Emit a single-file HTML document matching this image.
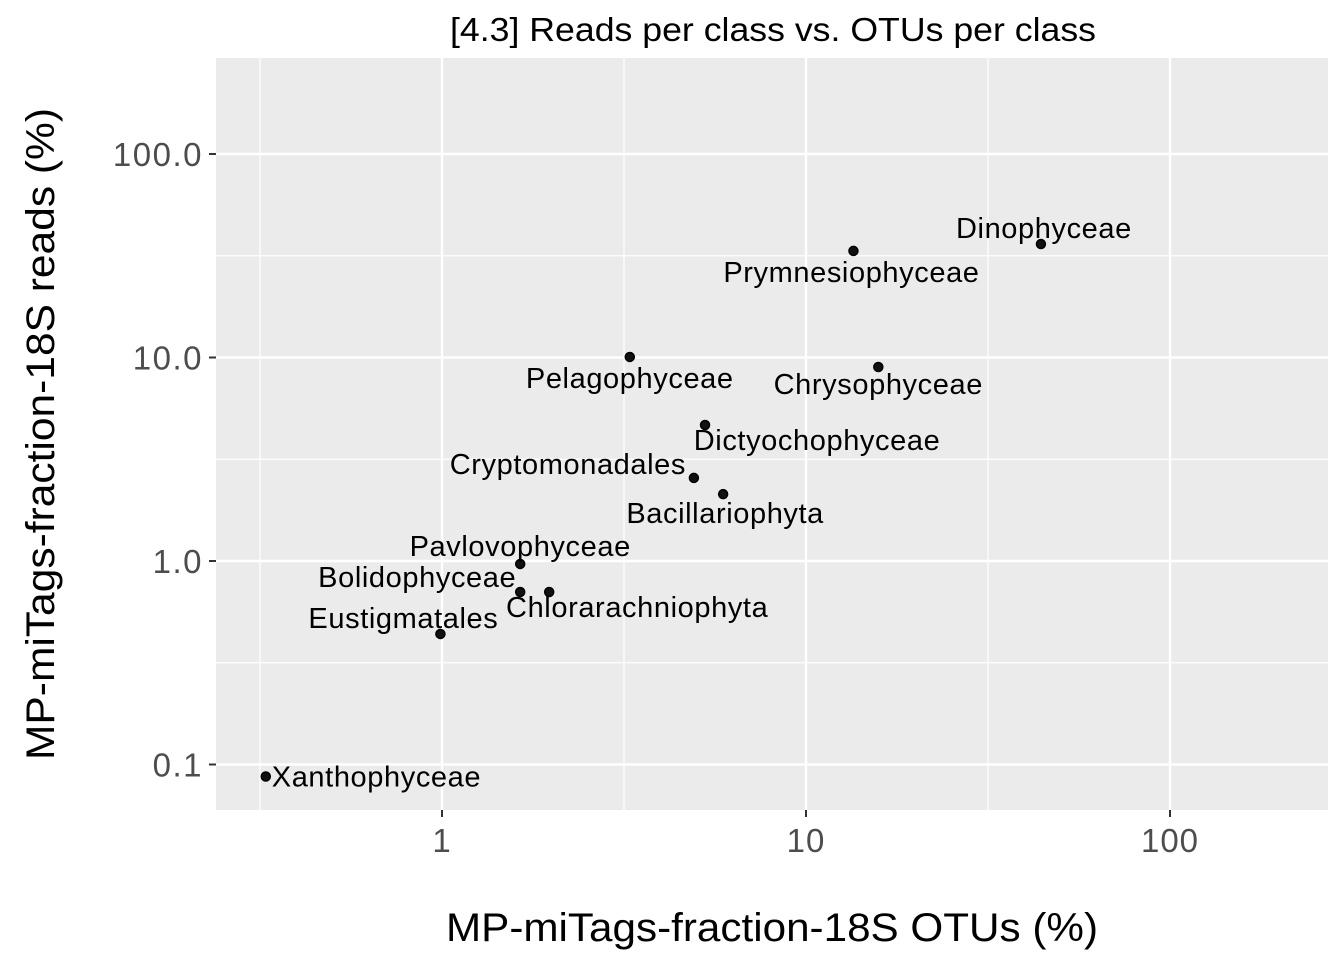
<!DOCTYPE html>
<html><head><meta charset="utf-8"><style>
body{margin:0;background:#fff;}
svg{display:block;font-family:"Liberation Sans",Arial,sans-serif;}
</style></head><body>
<svg id="chart" width="1344" height="960" xmlns="http://www.w3.org/2000/svg">
<rect width="1344" height="960" fill="#fff"/>
<text x="773" y="41" text-anchor="middle" font-size="33" textLength="646" lengthAdjust="spacingAndGlyphs" fill="#000">[4.3] Reads per class vs. OTUs per class</text>
<rect x="216" y="58" width="1112" height="752" fill="#ebebeb"/>
<g id="grid"></g><g id="axes"></g><g id="marks"></g>
<text x="772" y="941" text-anchor="middle" font-size="40" textLength="652" lengthAdjust="spacingAndGlyphs" fill="#000">MP-miTags-fraction-18S OTUs (%)</text>
<text transform="translate(54,434) rotate(-90)" text-anchor="middle" font-size="40" textLength="652" lengthAdjust="spacingAndGlyphs" fill="#000">MP-miTags-fraction-18S reads (%)</text>
</svg>
<script>
const classes=["Xanthophyceae","Eustigmatales","Bolidophyceae","Chlorarachniophyta","Pavlovophyceae","Cryptomonadales","Bacillariophyta","Dictyochophyceae","Pelagophyceae","Chrysophyceae","Prymnesiophyceae","Dinophyceae"];
const otus=[0.328,0.99,1.64,1.97,1.64,4.92,5.92,5.28,3.28,15.8,13.5,44.2];
const reads=[0.0873,0.438,0.704,0.704,0.967,2.56,2.13,4.66,10.06,8.98,33.4,36.1];
const xTicks=[1,10,100];
const xTickLabels=["1","10","100"];
const yTicks=[0.1,1,10,100];
const yTickLabels=["0.1","1.0","10.0","100.0"];
// label offsets (styling)
const lblDx=[6,-37,-103,88,0,-126,2,112,0,0,-2,3];
const lblDy=[10,-6,-5,25,-8,-4,29,25,31,27,31,-6];
const lblAnchor=["start","middle","middle","middle","middle","middle","middle","middle","middle","middle","middle","middle"];
const X=v=>442+364*Math.log10(v);
const Y=v=>561-203.5*Math.log10(v);
const NS="http://www.w3.org/2000/svg";
const g=document.getElementById('grid'),a=document.getElementById('axes'),m=document.getElementById('marks');
function mk(p,tag,at){const e=document.createElementNS(NS,tag);for(const k in at)e.setAttribute(k,at[k]);p.appendChild(e);return e;}
[-0.5,0.5,1.5].forEach(d=>{const x=X(Math.pow(10,d));const l=mk(g,'line',{x1:x,x2:x,y1:58,y2:810,stroke:'#fff','stroke-width':1.2});

});
[-0.5,0.5,1.5].forEach(d=>{const y=Y(Math.pow(10,d));const l=mk(g,'line',{x1:216,x2:1328,y1:y,y2:y,stroke:'#fff','stroke-width':1.2});

});
xTicks.forEach((t,i)=>{const x=X(t);
const l=mk(g,'line',{x1:x,x2:x,y1:58,y2:810,stroke:'#fff','stroke-width':2.4});


const tk=mk(a,'line',{x1:x,x2:x,y1:810,y2:817,stroke:'#333','stroke-width':2});


const tx=mk(a,'text',{x:x,y:852,'text-anchor':'middle','font-size':33,'letter-spacing':1,fill:'#4d4d4d'});tx.textContent=xTickLabels[i];

});
yTicks.forEach((t,i)=>{const y=Y(t);
const l=mk(g,'line',{x1:216,x2:1328,y1:y,y2:y,stroke:'#fff','stroke-width':2.4});


const tk=mk(a,'line',{x1:209,x2:216,y1:y,y2:y,stroke:'#333','stroke-width':2});


const tx=mk(a,'text',{x:203,y:y+12,'text-anchor':'end','font-size':33,'letter-spacing':1.5,fill:'#4d4d4d'});tx.textContent=yTickLabels[i];

});
classes.forEach((c,i)=>{const x=X(otus[i]),y=Y(reads[i]);
const p=mk(m,'circle',{cx:x,cy:y,r:4.5,fill:'#111',stroke:'#000','stroke-width':1.5});


const t=mk(m,'text',{x:x+lblDx[i],y:y+lblDy[i],'text-anchor':lblAnchor[i],'font-size':29,'letter-spacing':0.6,fill:'#000'});t.textContent=c;

});
</script>
</body></html>
